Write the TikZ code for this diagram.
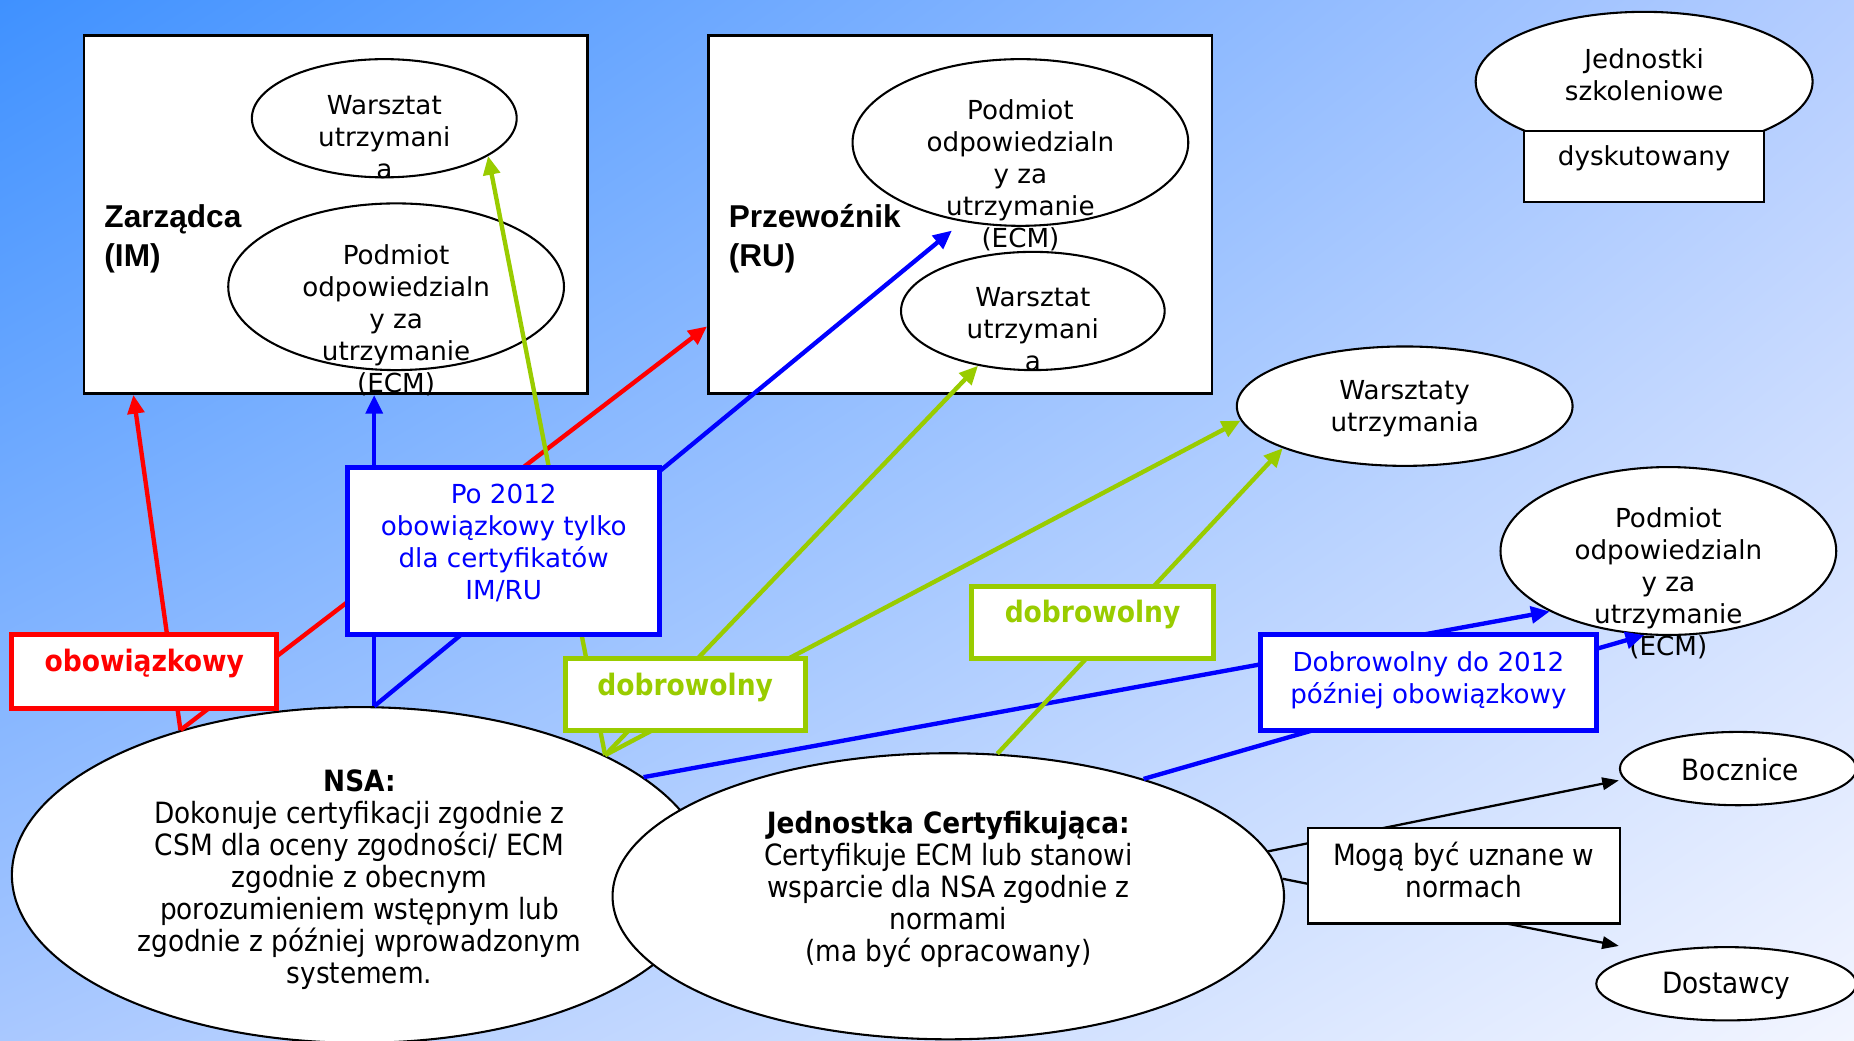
\documentclass[tikz,border=0pt]{standalone}
\usepackage{fontspec}
\setmainfont{DejaVu Sans}
\newfontfamily\tahoma{DejaVu Sans Condensed}
\newfontfamily\headfont{Liberation Sans}
\usetikzlibrary{shapes.geometric, arrows.meta, calc, shadings}
\definecolor{bgtl}{HTML}{3F91FF}
\definecolor{bgtr}{HTML}{B4CDFF}
\definecolor{bgbl}{HTML}{A9C8FF}
\definecolor{bgbr}{HTML}{F2F5FF}
\definecolor{mred}{HTML}{FF0000}
\definecolor{mblue}{HTML}{0000FF}
\definecolor{mgreen}{HTML}{99CC00}

\begin{document}
\begin{tikzpicture}[x=0.02cm, y=-0.02cm,
  font=\fontsize{12.6}{15.4}\selectfont,
  owner/.style={draw=black, fill=white, line width=1.2pt, inner sep=0pt,
                minimum width=8.52cm, minimum height=6.06cm},
  ell/.style={ellipse, draw=black, fill=white, line width=1pt, inner sep=0pt},
  note/.style={draw=black, fill=white, line width=1.1pt, inner sep=0pt},
  lbl/.style={align=center, inner sep=0pt},
  narrow/.style={align=center, inner sep=0pt, font=\tahoma\fontsize{14.1}{15.4}\selectfont},
  head/.style={align=left, inner sep=0pt, anchor=west,
               font=\headfont\bfseries\fontsize{15.2}{18.7}\selectfont},
  tag/.style={draw=#1, fill=white, line width=2.4pt, inner sep=0pt},
  tagtxt/.style={align=center, inner sep=0pt, text=#1},
  boldtag/.style={tagtxt=#1, font=\tahoma\bfseries\fontsize{14.2}{15.4}\selectfont},
  arr/.style={draw=#1, line width=2.1pt, -{Triangle[length=9pt, width=8pt]}},
  thin/.style={draw=black, line width=1.1pt, -{Triangle[length=8pt, width=6pt]}}
]
  \useasboundingbox (0,0) rectangle (1568,880);
  \shade[upper left=bgtl, upper right=bgtr, lower left=bgbl, lower right=bgbr]
    (0,0) rectangle (1568,880);

  % Zarzadca (IM)
  \node[owner] (zarz) at (284,181.5) {};
  \node[head] (zarz-t) at (88,202) {Zarządca\\(IM)};
  \node[ell, minimum width=4.48cm, minimum height=2cm] (zwar) at (325,100) {};
  \node[lbl] (zwar-t) at (325,116) {Warsztat\\utrzymani\\a};
  \node[ell, minimum width=5.68cm, minimum height=2.82cm] (zecm) at (335,242.5) {};
  \node[lbl] (zecm-t) at (335,270.5) {Podmiot\\odpowiedzialn\\y za\\utrzymanie\\(ECM)};

  % Przewoznik (RU)
  \node[owner] (prz) at (812,181.5) {};
  \node[head] (prz-t) at (616,202) {Przewoźnik\\(RU)};
  \node[ell, minimum width=5.68cm, minimum height=2.82cm] (pecm) at (863,120.5) {};
  \node[lbl] (pecm-t) at (863,148.5) {Podmiot\\odpowiedzialn\\y za\\utrzymanie\\(ECM)};
  \node[ell, minimum width=4.46cm, minimum height=2cm] (pwar) at (873.5,263) {};
  \node[lbl] (pwar-t) at (873.5,278) {Warsztat\\utrzymani\\a};

  % right column
  \node[ell, minimum width=5.7cm, minimum height=2.36cm] (szk) at (1390.5,69) {};
  \node[lbl] (szk-t) at (1390.5,63.5) {Jednostki\\szkoleniowe};
  \node[note, minimum width=4.06cm, minimum height=1.2cm] (dysk) at (1390.5,141) {};
  \node[lbl] (dysk-t) at (1390.5,134) {dyskutowany};
  \node[ell, minimum width=5.68cm, minimum height=2.02cm] (wu) at (1188,343.5) {};
  \node[lbl] (wu-t) at (1188,346) {Warsztaty\\utrzymania};
  \node[ell, minimum width=5.68cm, minimum height=2.84cm] (recm) at (1411,466) {};
  \node[lbl] (recm-t) at (1411,493.5) {Podmiot\\odpowiedzialn\\y za\\utrzymanie\\(ECM)};
  \node[ell, minimum width=4cm, minimum height=1.24cm] (boc) at (1470,650) {};
  \node[narrow] (boc-t) at (1472,651) {Bocznice};
  \node[ell, minimum width=4.4cm, minimum height=1.24cm] (dost) at (1460,832) {};
  \node[narrow] (dost-t) at (1460,834) {Dostawcy};

  % NSA and certifying body
  \node[ell, minimum width=11.76cm, minimum height=5.68cm] (nsa) at (304,740) {};
  \node[narrow] (nsa-t) at (304,744) {\textbf{NSA:}\\Dokonuje certyfikacji zgodnie z\\CSM dla oceny zgodności/ ECM\\zgodnie z obecnym\\porozumieniem wstępnym lub\\zgodnie z później wprowadzonym\\systemem.};
  \node[ell, minimum width=11.36cm, minimum height=4.84cm] (jc) at (802,758) {};
  \node[narrow] (jc-t) at (802,752.5) {\textbf{Jednostka Certyfikująca:}\\Certyfikuje ECM lub stanowi\\wsparcie dla NSA zgodnie z\\normami\\(ma być opracowany)};

  % links
  \draw[arr=mred] (nsa.141) -- ($(zarz.south west)!0.1!(zarz.south east)$);
  \draw[arr=mred] (nsa.141) -- ($(prz.south west)!0.19!(prz.north west)$);
  \draw[arr=mblue] (nsa.85) -- (nsa.85 |- zarz.south);
  \draw[arr=mblue] (nsa.85) -- ($(pecm.232)+(-6,8)$);
  \draw[arr=mblue] (nsa.19) -- (recm.207);
  \draw[arr=mblue] (jc.31) -- (recm.254);
  \draw[arr=mgreen] (nsa.26) -- (zwar.-20);
  \draw[arr=mgreen] (nsa.26) -- (pwar.225);
  \draw[arr=mgreen] (nsa.26) -- (wu.185);
  \draw[arr=mgreen] (jc.71) -- (wu.199);
  \draw[thin] (jc.8) -- ($(boc.west)+(0,10)$);
  \draw[thin] (jc.3) -- ($(dost.west)+(20,-32)$);

  % labels on the links
  \node[tag=mred, minimum width=4.48cm, minimum height=1.24cm] (obl) at (122,568) {};
  \node[boldtag=mred] (obl-t) at (122,561) {obowiązkowy};
  \node[tag=mblue, minimum width=5.28cm, minimum height=2.84cm] (po) at (426,466) {};
  \node[tagtxt=mblue] (po-t) at (426,459) {Po 2012\\obowiązkowy tylko\\dla certyfikatów\\IM/RU};
  \node[tag=mgreen, minimum width=4.06cm, minimum height=1.22cm] (dob1) at (579.5,587.5) {};
  \node[boldtag=mgreen] (dob1-t) at (579.5,581) {dobrowolny};
  \node[tag=mgreen, minimum width=4.08cm, minimum height=1.22cm] (dob2) at (924,526.5) {};
  \node[boldtag=mgreen] (dob2-t) at (924,520) {dobrowolny};
  \node[tag=mblue, minimum width=5.68cm, minimum height=1.62cm] (dd) at (1208,577.5) {};
  \node[tagtxt=mblue] (dd-t) at (1208,575) {Dobrowolny do 2012\\później obowiązkowy};
  \node[note, minimum width=5.28cm, minimum height=1.62cm] (mog) at (1238,740.5) {};
  \node[narrow] (mog-t) at (1238,736) {Mogą być uznane w\\normach};
\end{tikzpicture}
\end{document}
